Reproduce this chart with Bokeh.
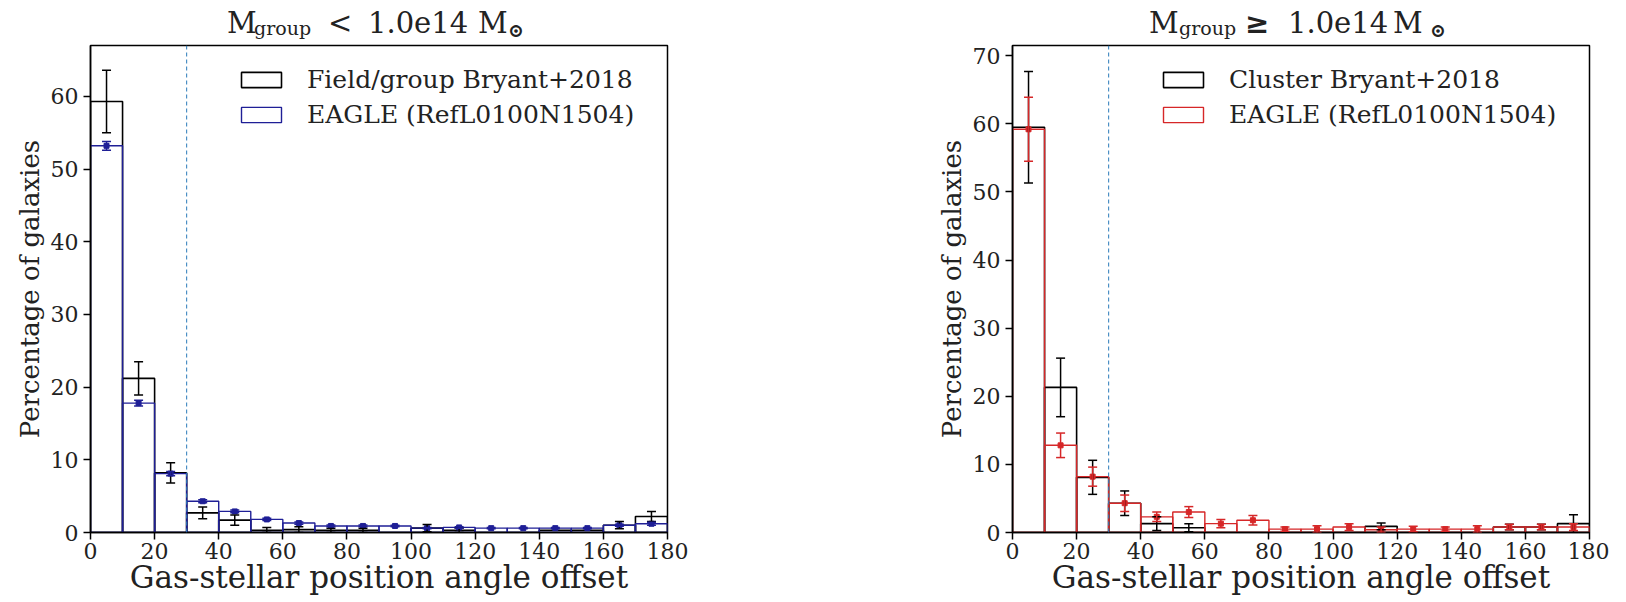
from bokeh.plotting import figure
from bokeh.models import (Whisker, TeeHead, ColumnDataSource, Span, Range1d, Div,
                          LinearAxis, FixedTicker)
from bokeh.layouts import row, column
from bokeh.embed import file_html
from bokeh.resources import INLINE

# ---------------- data ----------------
bin_edges = [0, 10, 20, 30, 40, 50, 60, 70, 80, 90, 100, 110, 120, 130, 140, 150, 160, 170, 180]

field_bryant = [59.3, 21.2, 8.2, 2.7, 1.7, 0.3, 0.4, 0.3, 0.3, 0.0, 0.6, 0.3, 0.0, 0.0, 0.3, 0.3, 1.0, 2.2]
field_bryant_err = [4.3, 2.3, 1.4, 0.8, 0.7, 0.4, 0.4, 0.3, 0.3, 0.0, 0.5, 0.3, 0.0, 0.0, 0.0, 0.0, 0.5, 0.7]
field_eagle = [53.2, 17.8, 8.1, 4.3, 2.9, 1.8, 1.3, 0.9, 0.9, 0.9, 0.6, 0.7, 0.6, 0.6, 0.6, 0.6, 1.0, 1.2]
field_eagle_err = [0.6, 0.4, 0.3, 0.2, 0.2, 0.15, 0.15, 0.12, 0.12, 0.1, 0.1, 0.1, 0.1, 0.1, 0.1, 0.1, 0.15, 0.2]

cluster_bryant = [59.5, 21.3, 8.1, 4.3, 1.3, 0.7, 0.0, 0.0, 0.0, 0.0, 0.0, 0.9, 0.0, 0.0, 0.0, 0.8, 0.8, 1.3]
cluster_bryant_err = [8.2, 4.3, 2.5, 1.8, 1.0, 0.6, 0.0, 0.0, 0.0, 0.0, 0.0, 0.5, 0.0, 0.0, 0.0, 0.4, 0.4, 1.3]
cluster_eagle = [59.2, 12.8, 8.2, 4.3, 2.3, 3.0, 1.3, 1.8, 0.5, 0.5, 0.8, 0.4, 0.5, 0.5, 0.5, 0.8, 0.8, 0.8]
cluster_eagle_err = [4.7, 1.8, 1.4, 1.2, 0.7, 0.8, 0.6, 0.7, 0.3, 0.5, 0.5, 0.4, 0.4, 0.3, 0.5, 0.4, 0.4, 0.5]

x_ticks = [0, 20, 40, 60, 80, 100, 120, 140, 160, 180]
left_y_ticks = [0, 10, 20, 30, 40, 50, 60]
right_y_ticks = [0, 10, 20, 30, 40, 50, 60, 70]

split_angle = 30

FONT = "DejaVu Serif"
BLUE = "#1f1f96"
RED = "#d62728"


def whisker_source(vals, errs):
    xs, up, lo, ys = [], [], [], []
    for i, (v, e) in enumerate(zip(vals, errs)):
        if e > 0:
            xs.append((bin_edges[i] + bin_edges[i + 1]) / 2)
            ys.append(v)
            up.append(v + e)
            lo.append(max(v - e, 0))
    return ColumnDataSource(dict(x=xs, y=ys, upper=up, lower=lo))


def panel(obs_vals, obs_err, sim_vals, sim_err, sim_color, obs_label, sim_label,
          ymax, yticks, label_bounds, border_left, border_right):
    p = figure(frame_width=577, frame_height=487,
               x_range=Range1d(0, 180), y_range=Range1d(0, ymax),
               output_backend="svg", toolbar_location=None,
               min_border_left=border_left, min_border_right=border_right,
               min_border_top=5, min_border_bottom=60)
    p.title.visible = False
    lefts = bin_edges[:-1]
    rights = bin_edges[1:]
    obs_src = ColumnDataSource(dict(left=lefts, right=rights, top=obs_vals, bottom=[0] * len(obs_vals)))
    sim_src = ColumnDataSource(dict(left=lefts, right=rights, top=sim_vals, bottom=[0] * len(sim_vals)))
    p.quad(left="left", right="right", top="top", bottom="bottom", source=obs_src,
           fill_color=None, line_color="black", line_width=1.6, legend_label=obs_label)
    p.quad(left="left", right="right", top="top", bottom="bottom", source=sim_src,
           fill_color=None, line_color=sim_color, line_width=1.4, legend_label=sim_label)

    ws = whisker_source(obs_vals, obs_err)
    p.add_layout(Whisker(base="x", upper="upper", lower="lower", source=ws,
                         line_color="black", line_width=1.5, level="annotation",
                         upper_head=TeeHead(size=9, line_color="black", line_width=1.5),
                         lower_head=TeeHead(size=9, line_color="black", line_width=1.5)))
    ss = whisker_source(sim_vals, sim_err)
    p.add_layout(Whisker(base="x", upper="upper", lower="lower", source=ss,
                         line_color=sim_color, line_width=1.5, level="annotation",
                         upper_head=TeeHead(size=9, line_color=sim_color, line_width=1.5),
                         lower_head=TeeHead(size=9, line_color=sim_color, line_width=1.5)))
    p.scatter("x", "y", source=ss, marker="square", size=5, color=sim_color)

    p.add_layout(Span(location=split_angle, dimension="height", line_color="#2b7bb9",
                      line_dash="4 3", line_width=1))

    p.grid.visible = False
    p.outline_line_color = "black"
    p.outline_line_width = 1.5
    p.xaxis.ticker = x_ticks
    p.yaxis.ticker = yticks
    for ax in (p.xaxis, p.yaxis):
        ax.major_label_text_font = FONT
        ax.major_label_text_font_size = "22px"
        ax.major_label_text_color = "#222222"
        ax.axis_label_text_font = FONT
        ax.axis_label_text_font_style = "normal"
        ax.axis_label_text_color = "#222222"
        ax.axis_line_width = 1.5
        ax.major_tick_line_width = 1.5
        ax.major_tick_out = 7
        ax.major_tick_in = 0
        ax.minor_tick_out = 0
        ax.minor_tick_in = 0
    p.xaxis.axis_label_text_font_size = "31px"
    p.xaxis.axis_label = "Gas-stellar position angle offset"
    p.xaxis.axis_label_standoff = -3
    p.xaxis.major_label_standoff = 3

    # y label sits a little above the axis centre, as in the reference:
    # carried by a tick-less companion axis whose extent is shifted upwards
    label_axis = LinearAxis(ticker=FixedTicker(ticks=[]), bounds=label_bounds,
                            axis_line_color=None, major_tick_line_color=None,
                            minor_tick_line_color=None,
                            axis_label="Percentage of galaxies",
                            axis_label_text_font=FONT, axis_label_text_font_size="26px",
                            axis_label_text_font_style="normal",
                            axis_label_text_color="#222222", axis_label_standoff=3)
    p.add_layout(label_axis, "left")

    lg = p.legend[0]
    lg.location = "top_right"
    lg.label_text_font = FONT
    lg.label_text_font_size = "25px"
    lg.label_text_color = "#222222"
    lg.glyph_width = 50
    lg.glyph_height = 19
    lg.label_standoff = 21
    lg.label_width = 340
    lg.spacing = 6
    lg.border_line_alpha = 0
    lg.background_fill_alpha = 0
    return p


def title_div(pieces, width):
    spans = []
    for text, left, top, size, weight in pieces:
        spans.append(
            f'<span style="position:absolute; left:{left}px; top:{top}px; font-size:{size}px; '
            f'line-height:1; font-weight:{weight}; white-space:nowrap;">{text}</span>')
    html = ('<div style="position:relative; width:100%; height:40px; font-family:\'DejaVu Serif\'; '
            'color:#222222;">' + "".join(spans) + '</div>')
    return Div(text=html, width=width, height=40, margin=0)


left_title = [("M", 227, 9, 29, "normal"), ("group", 254, 19, 19, "normal"),
              ("&lt;", 328, 9, 29, "normal"), ("1.0e14", 368, 9, 29, "normal"),
              ("M", 478, 9, 29, "normal"), ("\u2299", 508, 21, 19, "bold")]
right_title = [("M", 336, 9, 29, "normal"), ("group", 366, 19, 19, "normal"),
               ("\u2265", 432, 9, 29, "bold"), ("1.0e14", 475, 9, 29, "normal"),
               ("M", 580, 9, 29, "normal"), ("\u2299", 617, 21, 19, "bold")]

p1 = panel(field_bryant, field_bryant_err, field_eagle, field_eagle_err, BLUE,
           "Field/group Bryant+2018", "EAGLE (RefL0100N1504)", 67, left_y_ticks,
           (8.2, 67), 90, 146)
p2 = panel(cluster_bryant, cluster_bryant_err, cluster_eagle, cluster_eagle_err, RED,
           "Cluster Bryant+2018", "EAGLE (RefL0100N1504)", 71.5, right_y_ticks,
           (8.8, 71.5), 199, 20)

layout = row(column(title_div(left_title, 813), p1),
             column(title_div(right_title, 796), p2))
open("out.html", "w").write(file_html(layout, INLINE))
